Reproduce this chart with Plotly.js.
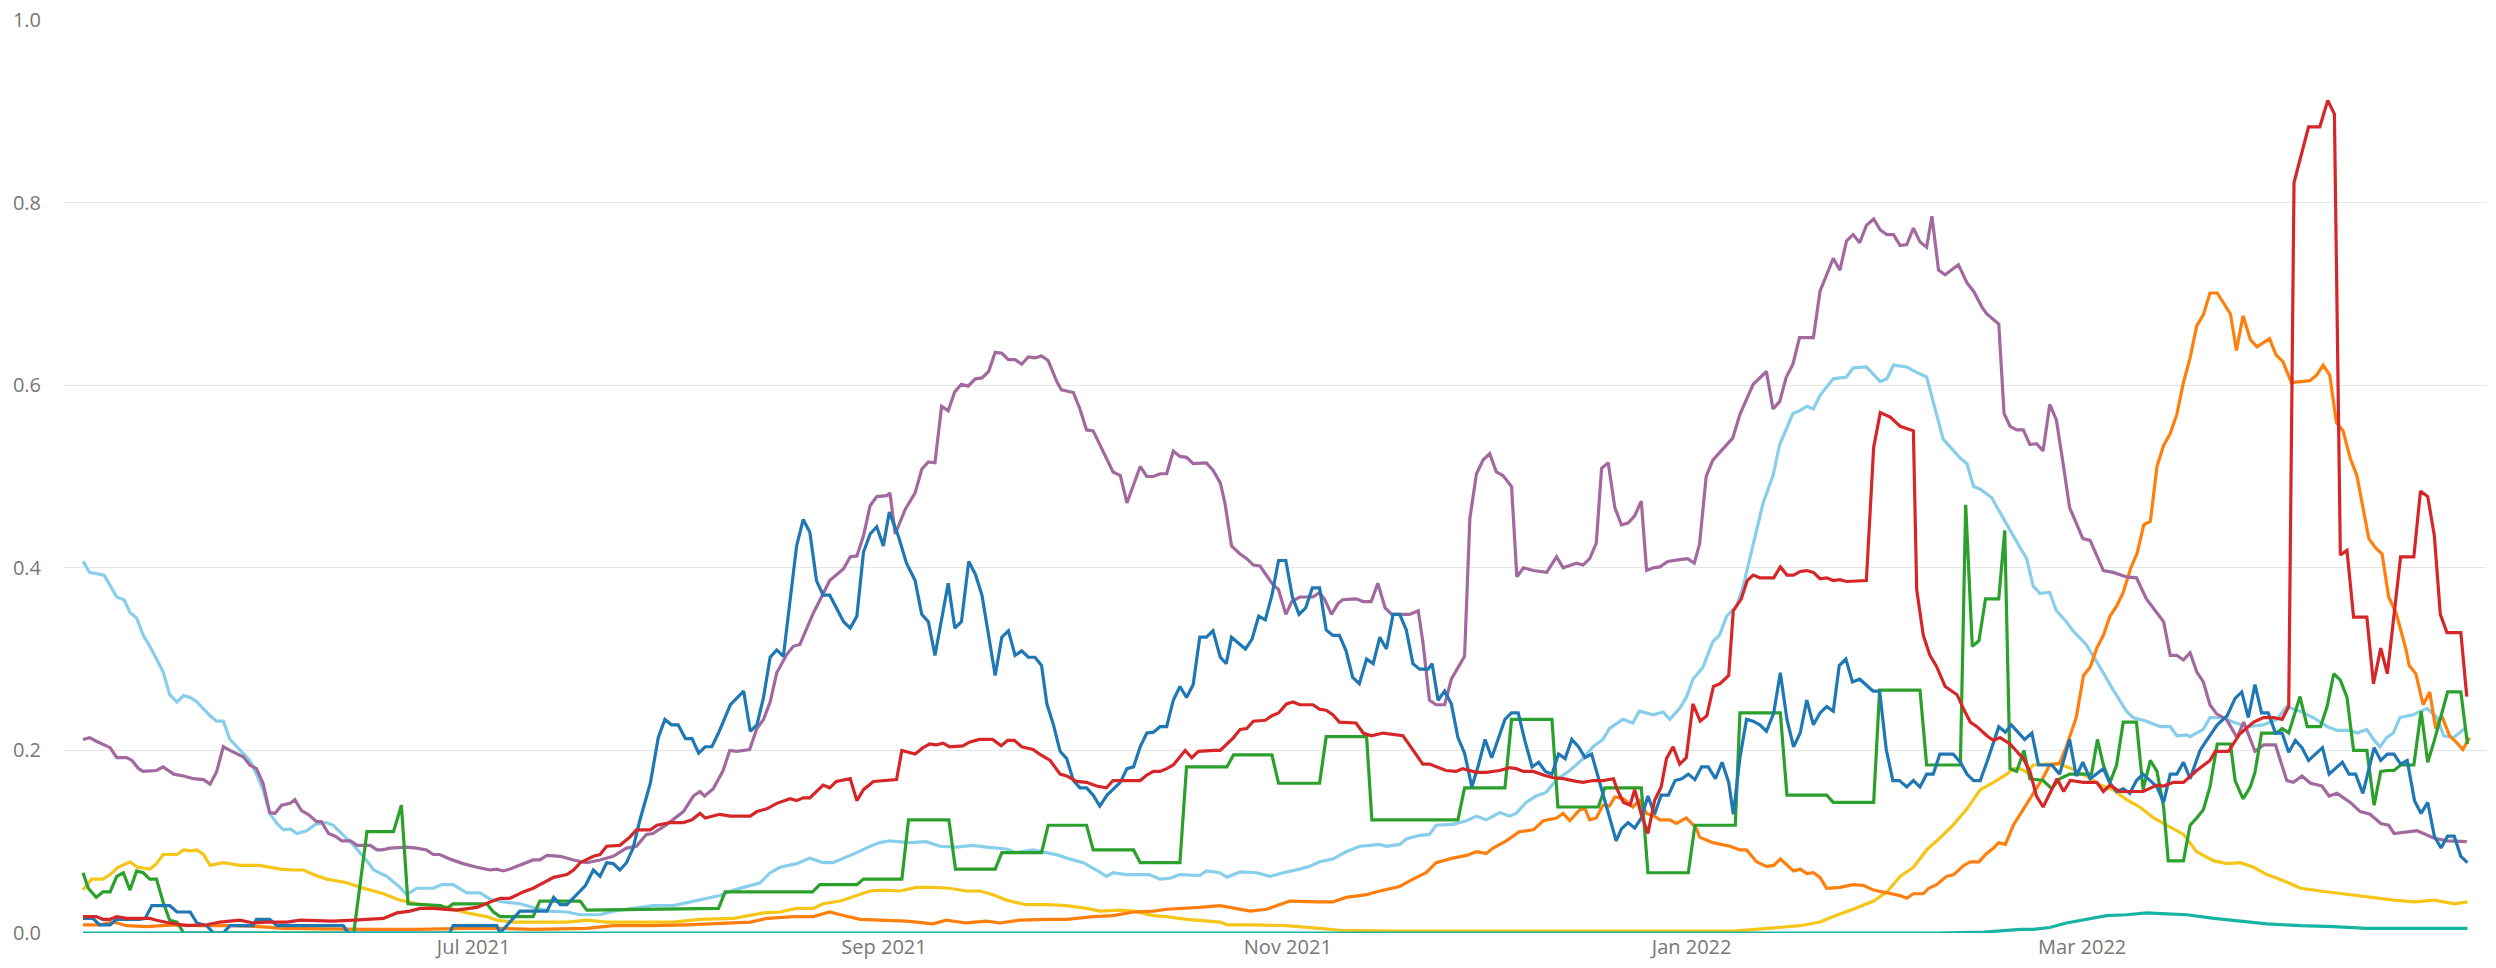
<!DOCTYPE html>
<html><head><meta charset="utf-8">
<script src="https://cdn.plot.ly/plotly-3.0.1.min.js"></script>
<style>html,body{margin:0;padding:0;background:#fff}#chart{width:2496px;height:968px}</style>
</head><body><div id="chart"></div>
<script>
// Day offsets are counted from START_DATE; each pair is [day, value].
const START_DATE = [2021, 4, 3]; // 2021-05-03
const xTickVals = ['2021-07-01','2021-09-01','2021-11-01','2022-01-01','2022-03-01'];
const xTickText = ['Jul 2021','Sep 2021','Nov 2021','Jan 2022','Mar 2022'];
const yTickVals = [0, 0.2, 0.4, 0.6, 0.8, 1.0];
const yTickText = ['0.0','0.2','0.4','0.6','0.8','1.0'];

const lightBlue = [[0,.407],[1,.395],[3.2,.392],[5.1,.368],[6.2,.365],[7.1,.351],[8.1,.345],[9.1,.326],[10.1,.314],[12.1,.286],[13.1,.261],[14.2,.253],[15.2,.26],[16.2,.258],[17.2,.253],[19.2,.238],[20.2,.232],[21.2,.232],[22.2,.212],[23.7,.2],[25.2,.189],[26.2,.174],[27.2,.157],[28.2,.131],[29.3,.12],[30.3,.113],[31.3,.114],[32.3,.109],[33.8,.112],[35.1,.119],[36.8,.121],[37.8,.118],[40.9,.096],[42.9,.079],[43.9,.069],[45.9,.062],[47.9,.05],[48.9,.042],[50.4,.049],[52.9,.049],[54.2,.053],[55.9,.053],[58,.044],[60,.044],[61.5,.037],[63.5,.034],[66,.032],[68,.028],[70.5,.024],[73.1,.023],[75.1,.02],[78.1,.02],[80.1,.024],[83.1,.027],[86.1,.03],[89.2,.03],[91.7,.034],[94.2,.038],[96.2,.041],[98.3,.047],[100.3,.051],[102.3,.055],[103.8,.066],[105.3,.072],[107.8,.076],[109.8,.082],[111.8,.077],[113.3,.077],[114.9,.082],[116.9,.088],[118.9,.095],[120.4,.099],[121.9,.101],[124.9,.099],[127.4,.1],[129.4,.095],[131.9,.094],[134.4,.096],[136.5,.094],[139.5,.092],[141,.088],[143.5,.091],[145.5,.088],[147.5,.085],[148.6,.082],[151.1,.077],[153.1,.069],[154.6,.062],[155.6,.066],[157.6,.064],[161.1,.064],[162.7,.059],[164.2,.06],[165.7,.064],[168.7,.063],[169.7,.068],[171.7,.066],[172.8,.061],[174.8,.067],[177.3,.066],[179.3,.062],[181.3,.066],[183.8,.07],[185.3,.073],[186.8,.078],[188.8,.081],[190.8,.089],[192.9,.095],[194.4,.096],[195.9,.097],[196.9,.095],[198.9,.097],[199.9,.103],[201.9,.107],[203.4,.108],[204.4,.118],[206.9,.119],[209,.123],[210.5,.128],[212,.124],[214,.132],[215.5,.128],[216.5,.131],[218,.143],[219.5,.15],[221,.154],[222.6,.168],[224.6,.178],[226.6,.191],[228.1,.204],[229.6,.212],[230.6,.224],[232.6,.234],[234.1,.23],[235.1,.243],[237.2,.239],[238.7,.242],[239.7,.234],[241.2,.246],[242.2,.258],[243.2,.278],[244.7,.291],[246.2,.319],[247.2,.326],[248.3,.347],[249.8,.358],[250.8,.38],[252.3,.427],[253.8,.471],[255.3,.501],[256.3,.535],[258.3,.569],[259.3,.572],[260.4,.577],[261.4,.574],[262.4,.589],[264.4,.607],[266.4,.609],[267.4,.619],[269.4,.62],[271.5,.604],[272.5,.607],[273.5,.622],[275.5,.62],[277,.614],[278.5,.609],[281,.541],[283.6,.52],[284.6,.514],[285.6,.489],[286.6,.486],[288.3,.477],[290.1,.455],[291.6,.435],[293.6,.41],[294.6,.38],[295.6,.372],[297.1,.373],[298.1,.353],[299.6,.341],[300.6,.331],[302.6,.316],[304.7,.291],[306.7,.266],[308.7,.243],[309.7,.236],[311.7,.232],[313.8,.226],[315.3,.226],[316.3,.216],[317.8,.217],[318.3,.215],[320.3,.223],[321.3,.236],[323.3,.236],[324.8,.231],[326.9,.226],[329.4,.228],[331.4,.234],[332.9,.248],[334.9,.243],[336.9,.236],[339,.226],[340.5,.222],[342.5,.222],[343.5,.219],[345,.223],[346,.212],[347,.204],[348,.214],[349,.219],[350,.236],[352,.239],[354.1,.246],[355.6,.236],[356.6,.216],[358.1,.214],[360.1,.226]];

const yellow = [[0,.047],[1.3,.059],[3,.059],[4.1,.064],[5.3,.072],[7.1,.078],[8.2,.072],[10.1,.07],[11.1,.076],[12.1,.086],[14.2,.086],[15.2,.091],[16.2,.09],[17.2,.091],[18.2,.086],[19.2,.074],[21.2,.077],[22.2,.076],[23.7,.074],[26.7,.074],[29.8,.07],[31.8,.069],[33.3,.069],[34.8,.064],[36.8,.059],[39.9,.055],[41.9,.05],[43.9,.046],[45.4,.043],[47.9,.036],[50.4,.032],[55,.028],[58,.022],[61,.018],[62.5,.014],[65,.012],[73.1,.012],[76.1,.014],[79.1,.012],[89.2,.012],[93.2,.015],[98.3,.016],[100.8,.019],[102.8,.022],[105.3,.023],[107.8,.027],[110.3,.027],[111.8,.032],[114.4,.035],[116.9,.041],[118.9,.046],[120.9,.047],[123.4,.046],[125.9,.05],[128.4,.05],[130.9,.049],[133.4,.046],[135.5,.046],[137.5,.042],[139.5,.036],[142.5,.031],[145.6,.031],[148.6,.03],[151.6,.027],[153.6,.024],[156.7,.025],[158.7,.024],[161.7,.019],[163.7,.018],[166.7,.015],[168.7,.014],[171.8,.012],[172.8,.009],[176.8,.009],[181.8,.008],[183.8,.007],[186.8,.005],[189.8,.003],[198.9,.002],[249.3,.002],[254.3,.005],[259.4,.008],[262.4,.012],[264.4,.018],[267.4,.026],[270.5,.035],[272.5,.045],[274.5,.062],[276.5,.072],[278.5,.091],[280.5,.104],[282.6,.119],[284.6,.136],[286.6,.157],[288.6,.165],[290.6,.174],[291.6,.18],[292.6,.18],[293.6,.176],[294.6,.184],[296.6,.185],[298.6,.185],[300.4,.18],[302.6,.172],[304.7,.162],[306.7,.157],[308.7,.146],[310.7,.138],[312.8,.126],[314.8,.118],[317.3,.108],[319.3,.089],[321.9,.079],[323.9,.076],[325.9,.077],[327.9,.072],[329.9,.064],[332.5,.057],[335,.049],[338,.046],[341.1,.043],[345.1,.039],[349.1,.036],[352.2,.034],[355.2,.036],[358.2,.032],[360.2,.034]];

const orange = [[0,.009],[2.5,.009],[4.6,.012],[6.6,.008],[9.6,.007],[13.7,.009],[17.7,.008],[22.7,.008],[26.7,.007],[30.3,.005],[42.9,.004],[50.4,.004],[58,.005],[63,.005],[68,.004],[76.1,.005],[80.1,.008],[86.1,.008],[91.2,.009],[96.2,.011],[100.8,.012],[103.3,.016],[107.3,.018],[110.3,.018],[112.8,.023],[114.4,.02],[117.4,.015],[120.4,.014],[124.4,.013],[128.4,.01],[130.4,.014],[133.4,.011],[136.5,.013],[138.5,.011],[141.5,.014],[145.6,.015],[148.6,.015],[152.6,.018],[155.6,.019],[158.7,.023],[161.7,.024],[163.7,.026],[166.7,.027],[168.7,.028],[171.8,.03],[173.8,.027],[176.3,.024],[178.8,.026],[180.3,.03],[182.3,.035],[186.8,.034],[188.8,.034],[190.8,.039],[193.9,.042],[195.9,.046],[198.9,.051],[200.9,.059],[202.9,.066],[204.4,.077],[206.9,.082],[209,.085],[210.5,.089],[212,.087],[213,.093],[215,.101],[217,.111],[219.1,.113],[220.6,.123],[222.6,.126],[223.6,.131],[224.6,.123],[226.1,.135],[226.9,.136],[227.6,.124],[228.6,.126],[229.6,.14],[230.6,.139],[231.4,.149],[232.7,.147],[234.1,.138],[235.1,.145],[236.2,.131],[237.4,.128],[238.2,.124],[239.7,.124],[240.7,.12],[242.2,.126],[243.7,.115],[244.2,.105],[246.2,.099],[248.8,.095],[250.3,.091],[251.3,.091],[252.8,.078],[254.3,.073],[255.4,.074],[256.4,.081],[258.4,.068],[259.4,.07],[260.4,.065],[261.4,.066],[262.4,.061],[263.4,.049],[265.4,.05],[267.4,.053],[269,.052],[270.5,.047],[272,.045],[273,.043],[274.5,.041],[275.5,.038],[276.5,.043],[278,.043],[278.8,.049],[280,.053],[281.5,.062],[282.6,.064],[284.1,.074],[285.1,.078],[286.4,.078],[287.4,.086],[288.6,.093],[289.4,.099],[290.4,.097],[291.6,.118],[293.1,.135],[294.6,.153],[296.1,.17],[297.1,.184],[298.6,.186],[299.6,.204],[301.1,.236],[302.2,.282],[303.2,.291],[304.2,.312],[305.2,.326],[306.2,.347],[307.2,.358],[308.2,.373],[309.3,.399],[310.3,.416],[311.3,.447],[312.3,.451],[313.3,.511],[314.3,.534],[315.3,.547],[316.3,.568],[317.3,.603],[318.3,.63],[319.3,.665],[320.3,.677],[321.3,.701],[322.4,.701],[324.4,.678],[325.3,.638],[326.3,.676],[327.4,.65],[328.4,.642],[330.3,.651],[331.3,.633],[332.3,.626],[333.6,.603],[335.1,.604],[336.4,.605],[337.4,.611],[338.4,.622],[339.4,.611],[340.4,.559],[341.4,.55],[342.5,.52],[343.5,.501],[345.3,.432],[346.3,.422],[347.3,.415],[348.3,.368],[349.4,.351],[350.9,.311],[351.4,.293],[352.4,.284],[353.5,.25],[354.5,.264],[355.4,.224],[356.3,.238],[357.5,.216],[358.5,.209],[359.5,.201],[360.5,.214]];

const purple = [[0,.212],[1,.214],[2,.21],[4.1,.203],[5.1,.192],[6.6,.192],[7.4,.189],[8.4,.18],[9.1,.177],[11.1,.178],[12.1,.182],[13.7,.174],[15.2,.172],[16.7,.169],[18.2,.168],[19.2,.163],[20.2,.177],[21.2,.204],[22.2,.2],[23.2,.196],[24.2,.193],[25.2,.184],[26.2,.18],[27.2,.164],[28.2,.132],[29,.131],[30,.14],[31.3,.142],[32,.146],[33,.134],[34,.13],[35.3,.122],[36,.122],[37.1,.109],[38.1,.106],[39.1,.101],[40.4,.101],[41.4,.096],[43.4,.096],[44.4,.091],[45.2,.091],[46.4,.093],[48.9,.094],[50.4,.093],[51.9,.091],[52.9,.086],[53.9,.086],[55.4,.081],[57.4,.076],[59.5,.072],[61.5,.069],[62.5,.07],[63.5,.068],[64.5,.07],[66.5,.076],[68,.08],[69,.08],[70.1,.085],[72.1,.084],[74.1,.08],[76.1,.077],[78.1,.08],[80.1,.084],[82.1,.093],[83.6,.095],[85.1,.108],[86.1,.109],[88.2,.119],[90.7,.133],[92.2,.15],[93.2,.155],[93.9,.15],[95.2,.158],[96.7,.178],[97.7,.2],[98.7,.199],[100.7,.201],[101.8,.224],[102.8,.234],[103.8,.253],[104.8,.285],[106.3,.305],[107.3,.314],[108.3,.316],[110.3,.35],[112.8,.386],[114.9,.399],[115.9,.412],[116.9,.413],[117.9,.435],[118.9,.468],[119.9,.478],[121.4,.479],[121.9,.482],[122.7,.437],[124.2,.464],[125.7,.482],[126.7,.508],[127.7,.516],[128.7,.515],[129.7,.577],[130.7,.572],[131.7,.593],[132.7,.601],[133.7,.599],[134.8,.607],[135.8,.608],[136.8,.615],[137.8,.636],[138.8,.635],[139.8,.628],[140.8,.628],[141.8,.623],[142.8,.631],[143.8,.63],[144.8,.632],[145.8,.627],[147.1,.604],[147.8,.595],[149.6,.592],[150.6,.574],[151.6,.551],[152.6,.55],[154.1,.528],[155.6,.505],[156.7,.501],[157.7,.471],[158.7,.491],[159.7,.511],[160.7,.5],[161.7,.5],[162.7,.503],[163.7,.503],[164.7,.528],[165.7,.522],[166.7,.521],[167.7,.514],[169.7,.515],[170.7,.507],[171.8,.493],[172.5,.471],[173.5,.424],[174.8,.415],[175.8,.41],[176.8,.403],[177.8,.402],[178.8,.392],[179.6,.383],[180.6,.376],[181.7,.349],[182.6,.363],[183.8,.368],[185.8,.368],[186.8,.373],[187.6,.365],[188.6,.349],[189.6,.361],[190.3,.365],[192.3,.366],[193.4,.363],[194.6,.363],[195.6,.383],[196.7,.356],[197.7,.349],[200.4,.349],[201.7,.353],[202.4,.319],[203.4,.255],[204.4,.25],[205.7,.25],[206.7,.278],[207.7,.29],[208.7,.303],[209.5,.454],[210.5,.503],[211.5,.518],[212.5,.525],[213.5,.505],[214.5,.501],[215.8,.489],[216.6,.39],[217.6,.4],[219.1,.397],[221.1,.395],[222.6,.412],[223.6,.4],[225.6,.405],[226.6,.403],[227.6,.41],[228.6,.427],[229.4,.509],[230.4,.515],[231.4,.466],[232.4,.447],[233.4,.449],[234.4,.457],[235.4,.473],[236.2,.397],[237.2,.4],[238.2,.401],[239.4,.407],[241.2,.409],[242.4,.41],[243.4,.405],[244.2,.426],[245.2,.5],[246.2,.518],[247.7,.53],[249.2,.542],[250.3,.568],[251.3,.584],[252.3,.601],[254.3,.615],[255.3,.574],[256.3,.582],[257.3,.609],[258.3,.623],[259.3,.652],[261.4,.652],[262.4,.703],[263.4,.721],[264.4,.739],[265.4,.726],[266.4,.758],[267.4,.765],[268.4,.756],[269.4,.775],[270.5,.782],[271.5,.77],[272.5,.765],[273.5,.765],[274.5,.753],[275.5,.754],[276.5,.772],[277.5,.757],[278.5,.751],[279.3,.785],[280.3,.726],[281.3,.721],[283.3,.732],[284.6,.712],[285.6,.703],[286.9,.685],[287.6,.678],[289.4,.667],[290.2,.569],[291.1,.555],[292.1,.551],[293.1,.551],[294.1,.535],[295.1,.536],[296.1,.528],[297.1,.579],[298.1,.562],[299.1,.515],[300.1,.466],[302.1,.432],[303.2,.43],[305.2,.397],[306.7,.395],[308.7,.39],[310.2,.389],[311.7,.366],[312.7,.356],[314.3,.341],[315.3,.304],[316.3,.304],[317.3,.299],[318.3,.307],[319.3,.286],[320.3,.275],[321.3,.25],[322.3,.24],[323.8,.234],[325.4,.214],[326.4,.231],[328.1,.199],[329.4,.206],[331.2,.206],[332.9,.167],[333.9,.165],[335.2,.172],[336.5,.164],[338.2,.161],[339.3,.15],[340.5,.153],[342.5,.143],[344,.133],[345.5,.13],[347.1,.12],[348.3,.118],[349.1,.109],[350.1,.11],[352.6,.112],[355.1,.104],[357.1,.101],[360.1,.1]];

const green = [[0,.066],[0.8,.049],[2,.039],[3,.045],[4.1,.045],[5.1,.062],[6.1,.066],[7.1,.047],[8.1,.068],[9.1,.066],[10.1,.059],[11.1,.059],[12.1,.034],[13.1,.014],[14.2,.012],[15.2,0],[40.9,0],[42.9,.111],[46.9,.111],[48.1,.14],[49.1,.032],[54,.03],[55,.027],[55.9,.032],[61,.032],[62,.023],[63,.018],[68,.018],[69,.035],[75.1,.035],[76.1,.025],[96,.027],[97,.045],[110.2,.045],[111.3,.053],[116.9,.053],[117.9,.059],[123.7,.059],[124.7,.124],[130.8,.124],[131.8,.07],[137.8,.07],[138.8,.088],[144.8,.088],[145.8,.118],[151.6,.118],[152.6,.091],[158.7,.091],[159.7,.077],[165.7,.077],[166.7,.182],[172.8,.182],[173.8,.195],[179.6,.195],[180.6,.164],[186.8,.164],[187.8,.215],[193.9,.215],[194.7,.124],[207.7,.124],[208.7,.159],[214.8,.159],[215.8,.234],[221.9,.234],[222.8,.138],[228.9,.138],[229.9,.159],[235.4,.159],[236.4,.066],[242.5,.066],[243.5,.118],[249.6,.118],[250.3,.241],[256.4,.241],[257.4,.151],[263.4,.151],[264.4,.143],[270.5,.143],[271.4,.266],[277.5,.266],[278.5,.184],[283.6,.184],[284.4,.469],[285.4,.314],[286.4,.32],[287.4,.366],[289.4,.366],[290.3,.441],[291.1,.18],[292.1,.177],[293.2,.2],[294.1,.169],[296.1,.167],[297.4,.158],[298.6,.169],[300.1,.174],[303.4,.174],[304.3,.212],[305.2,.184],[306.2,.165],[307.2,.184],[308.2,.231],[310.2,.231],[311.2,.157],[312.3,.189],[313.3,.177],[314.3,.138],[315,.079],[317.3,.079],[318.3,.118],[319.3,.126],[320.3,.135],[321.3,.16],[322.4,.207],[324.4,.207],[325.1,.167],[326.3,.147],[327.4,.16],[328.1,.176],[329.1,.219],[331.4,.219],[332.2,.224],[333.2,.219],[334.9,.259],[336,.226],[338,.226],[339,.248],[340,.284],[341,.277],[342,.258],[343,.2],[345,.2],[346.1,.14],[347.1,.177],[348.1,.178],[349.1,.178],[350.1,.184],[352.1,.184],[353.2,.243],[354.2,.187],[355.2,.211],[357.2,.264],[359.2,.264],[360.2,.207]];

const blue = [[0,.016],[1.5,.016],[2.5,.009],[4.1,.009],[5.1,.015],[8.6,.015],[9.4,.016],[10.4,.03],[13.1,.03],[14.2,.023],[16.2,.023],[17.2,.011],[18.7,.008],[19.7,0],[21.2,0],[22.2,.008],[25.7,.008],[26.2,.015],[28.2,.015],[29.3,.008],[39.3,.008],[40.1,0],[55.4,0],[55.9,.008],[62.5,.008],[63,0],[66,.024],[70.1,.024],[71.1,.039],[72.1,.031],[73.1,.031],[74.6,.042],[75.9,.052],[77.1,.069],[78.1,.062],[79.1,.077],[80.1,.076],[81.1,.069],[82.1,.077],[83.1,.093],[84.1,.123],[85.7,.164],[86.9,.214],[87.9,.234],[88.9,.228],[89.9,.228],[91,.213],[92,.213],[93,.197],[94,.204],[95,.204],[96,.219],[97.8,.25],[99.8,.265],[100.8,.221],[101.8,.228],[102.8,.258],[103.8,.302],[104.8,.31],[105.8,.303],[106.8,.363],[107.8,.424],[108.8,.453],[109.8,.439],[110.8,.386],[111.8,.37],[112.8,.37],[114.9,.341],[115.9,.334],[116.9,.347],[117.9,.417],[118.9,.437],[119.9,.445],[120.9,.424],[121.8,.461],[123.2,.434],[124.4,.405],[125.7,.386],[126.7,.349],[127.7,.341],[128.7,.304],[130.7,.383],[131.7,.334],[132.7,.341],[133.8,.407],[134.8,.393],[135.8,.37],[137.8,.282],[138.8,.324],[139.8,.331],[140.8,.304],[141.8,.309],[142.8,.302],[143.8,.302],[144.8,.293],[145.6,.251],[146.6,.228],[147.6,.199],[148.6,.191],[149.6,.167],[150.6,.159],[151.6,.159],[152.6,.151],[153.6,.139],[154.7,.151],[156.7,.165],[157.7,.18],[158.7,.182],[159.7,.204],[160.7,.219],[161.7,.22],[162.7,.226],[163.7,.226],[164.7,.255],[165.7,.27],[166.7,.258],[167.7,.272],[168.7,.324],[169.7,.324],[170.7,.331],[171.8,.302],[172.7,.295],[173.5,.324],[175.6,.311],[176.6,.322],[177.6,.347],[178.6,.343],[179.6,.37],[180.6,.408],[181.7,.408],[182.7,.368],[183.7,.349],[184.7,.356],[185.7,.378],[186.8,.378],[187.8,.332],[188.8,.326],[189.8,.326],[190.8,.309],[191.8,.28],[192.8,.273],[193.9,.3],[194.9,.295],[195.9,.324],[196.9,.311],[197.9,.349],[198.9,.349],[199.9,.332],[200.9,.295],[201.9,.289],[203.2,.289],[203.8,.295],[204.7,.255],[205.7,.265],[206.7,.251],[207.7,.214],[208.7,.197],[209.8,.16],[210.8,.184],[211.8,.212],[212.8,.192],[213.8,.214],[214.8,.234],[215.8,.241],[216.8,.241],[217.8,.211],[218.9,.182],[219.9,.187],[220.9,.177],[221.9,.174],[222.9,.196],[223.9,.191],[224.9,.212],[225.9,.204],[226.9,.192],[227.9,.196],[228.9,.17],[229.9,.143],[230.9,.12],[231.6,.101],[232.4,.114],[233.4,.121],[234.4,.115],[235.4,.126],[236.4,.15],[237.4,.13],[238.4,.151],[239.5,.151],[240.5,.167],[241.5,.169],[242.5,.174],[243.5,.168],[244.5,.182],[245.5,.182],[246.6,.169],[247.6,.187],[248.6,.165],[249.3,.13],[250.3,.192],[251.3,.234],[252.3,.232],[253.3,.228],[254.3,.221],[255.4,.241],[256.4,.285],[257.4,.234],[258.4,.204],[259.4,.219],[260.4,.255],[261.4,.228],[262.4,.241],[263.4,.248],[264.4,.243],[265.3,.293],[266.3,.3],[267.3,.275],[268.4,.278],[269.4,.272],[270.4,.265],[271.4,.265],[272.4,.201],[273.4,.167],[274.4,.167],[275.5,.16],[276.5,.167],[277.5,.16],[278.5,.174],[279.5,.174],[280.5,.196],[282.5,.196],[283.6,.187],[284.6,.174],[285.6,.167],[286.6,.167],[287.6,.187],[289.4,.226],[290.4,.22],[291.3,.228],[293.3,.212],[294.4,.219],[295.4,.184],[297.4,.184],[298.6,.174],[300.1,.212],[301.1,.172],[302.1,.187],[303.2,.169],[305.2,.18],[306.2,.164],[307.2,.155],[308.2,.158],[309.2,.153],[310.2,.167],[311.2,.174],[312.3,.167],[313.3,.16],[314.3,.143],[315.3,.174],[316.3,.174],[317.3,.187],[318.3,.169],[319.8,.2],[320.8,.211],[322.4,.228],[323.9,.238],[325.1,.257],[326.1,.264],[327.1,.236],[328.1,.272],[329.1,.241],[330.1,.241],[331.2,.219],[332.2,.219],[333.2,.198],[334.2,.211],[335.2,.203],[336.2,.189],[338.3,.203],[339.3,.174],[341.3,.187],[342.3,.174],[343.3,.174],[344.4,.153],[346.1,.203],[347.1,.189],[348.1,.196],[349.1,.196],[350.1,.185],[351.1,.189],[352.2,.145],[353.2,.131],[354.2,.143],[355.2,.106],[356.2,.093],[357.2,.106],[358.2,.106],[359.2,.084],[360.2,.077]];

const red = [[0,.018],[2,.018],[3,.015],[4.1,.015],[5.1,.018],[6.6,.016],[10.1,.016],[11.1,.014],[13.1,.011],[15.7,.008],[18.7,.009],[20.7,.012],[23.7,.014],[25.7,.011],[27.7,.012],[30.8,.012],[32.8,.014],[37.8,.013],[40.9,.014],[42.9,.015],[45.4,.016],[47.4,.022],[49.4,.024],[50.9,.027],[52.9,.027],[56.4,.025],[59.5,.028],[61.5,.034],[63,.038],[64.5,.038],[66.5,.045],[68,.049],[69.5,.055],[71.1,.061],[73.1,.064],[74.1,.069],[75.1,.077],[77.1,.084],[78.1,.086],[79.1,.095],[81.1,.096],[82.6,.105],[83.6,.113],[85.7,.113],[86.7,.118],[88.7,.121],[90.7,.121],[92,.124],[93.2,.131],[94,.126],[96.2,.13],[97.8,.128],[100.8,.128],[101.8,.133],[103.3,.136],[104.8,.142],[106.8,.147],[107.8,.145],[108.8,.148],[109.8,.148],[111.8,.162],[112.8,.159],[113.8,.166],[115.9,.169],[116.9,.145],[117.9,.157],[119.4,.166],[121.9,.168],[122.9,.168],[123.7,.2],[125.7,.196],[126.9,.203],[127.9,.207],[128.9,.206],[129.9,.208],[130.9,.204],[132.9,.205],[133.9,.209],[135.4,.212],[137.4,.212],[138.7,.205],[139.7,.211],[140.7,.211],[141.8,.204],[143.5,.201],[144.5,.196],[146.1,.189],[147.6,.174],[148.6,.172],[150.1,.166],[151.6,.165],[153.1,.161],[154.6,.159],[155.6,.167],[159.7,.167],[160.7,.173],[161.7,.177],[162.7,.177],[163.7,.18],[164.7,.184],[166.5,.2],[167.5,.192],[168.5,.199],[170.8,.2],[171.8,.2],[172.8,.207],[173.8,.214],[174.8,.223],[175.8,.224],[176.8,.232],[178.6,.233],[179.6,.238],[180.6,.241],[181.8,.251],[182.8,.253],[183.8,.25],[185.8,.25],[186.8,.245],[187.8,.244],[188.8,.239],[189.8,.231],[192.3,.23],[193.4,.219],[194.6,.216],[196.4,.219],[199.4,.216],[200.9,.2],[202.4,.185],[203.4,.185],[204.4,.182],[205.9,.178],[207.4,.177],[208.4,.18],[210.5,.176],[212,.176],[214,.178],[215.5,.181],[216.5,.18],[217.6,.177],[219.1,.177],[220.6,.173],[222.1,.17],[223.6,.169],[225.6,.166],[226.6,.165],[228.1,.167],[229.6,.167],[231.2,.169],[231.7,.158],[232.7,.143],[233.7,.14],[234.4,.157],[235.4,.13],[236.4,.109],[237.4,.145],[238.4,.16],[239.2,.191],[240.2,.204],[241.2,.185],[242.2,.192],[243.2,.251],[244.3,.232],[245.3,.238],[246.3,.27],[247.3,.273],[248.6,.282],[249.3,.353],[250.5,.366],[251.4,.386],[252.3,.392],[253.3,.389],[255.4,.389],[256.4,.401],[257.4,.392],[258.4,.392],[259.4,.396],[260.4,.397],[261.4,.395],[262.4,.388],[263.4,.389],[264.4,.386],[265.4,.387],[266.4,.385],[269.4,.386],[270.5,.532],[271.5,.57],[273,.565],[274.5,.555],[276.5,.55],[277,.376],[278,.326],[279,.304],[280,.292],[281.3,.27],[283.1,.261],[284.1,.245],[285.1,.231],[286.1,.226],[287.6,.216],[288.6,.211],[289.6,.214],[291.1,.207],[292.1,.199],[293.1,.191],[294.1,.177],[295.1,.15],[296.1,.138],[297.1,.153],[298.2,.169],[299.2,.155],[300.2,.167],[302.2,.165],[304.2,.165],[305.2,.155],[306.2,.162],[307.7,.155],[311.2,.155],[313.3,.162],[314.3,.161],[315.8,.165],[317.3,.165],[319.3,.178],[321.3,.189],[322.1,.199],[324.1,.199],[325.8,.218],[327.9,.231],[329.4,.236],[330.9,.236],[332.2,.234],[333.2,.248],[334,.822],[335.2,.854],[336.2,.883],[337.9,.883],[339.1,.912],[340.1,.897],[341,.414],[342,.419],[343,.346],[345,.346],[346,.273],[347.1,.312],[348.1,.284],[350.1,.412],[352.1,.412],[353.1,.484],[354.2,.478],[355.2,.435],[356.1,.349],[357.1,.329],[359.2,.329],[360.1,.259]];

const teal = [[0,0],[50,0],[100,0],[150,0],[200,0],[250,0],[280,0],[287.2,.001],[292.7,.004],[294.6,.004],[297.1,.006],[299.6,.011],[302.6,.015],[305.7,.019],[308.7,.02],[311.7,.022],[314.8,.021],[317.8,.02],[321.9,.016],[325.9,.013],[329.9,.01],[335,.008],[340,.007],[345,.005],[350.1,.005],[355.2,.005],[360.2,.005]];

const seriesList = [
  {name:'Series F', data: lightBlue, color:'#87ceeb', width:3.2},
  {name:'Series G', data: yellow,    color:'#f5c518', width:3.2},
  {name:'Series B', data: orange,    color:'#ff7f0e', width:3.2},
  {name:'Series E', data: purple,    color:'#a2699f', width:3.2},
  {name:'Series C', data: green,     color:'#2ca02c', width:3.2},
  {name:'Series A', data: blue,      color:'#1f77b4', width:3.2},
  {name:'Series D', data: red,       color:'#d62728', width:3.2},
  {name:'Series H', data: teal,      color:'#17b3a3', width:3.2}
];

const startMs = Date.UTC(START_DATE[0], START_DATE[1], START_DATE[2]);
function toDate(d){
  return new Date(startMs + d*86400000).toISOString().slice(0,19).replace('T',' ');
}

const traces = seriesList.map(s => ({
  type:'scatter', mode:'lines', name:s.name,
  x: s.data.map(p => toDate(p[0])),
  y: s.data.map(p => p[1]),
  line:{color:s.color, width:s.width, shape:'linear'},
  hoverinfo:'skip'
}));

const tickFont = {family:'"Open Sans", "Noto Sans", sans-serif', size:20, color:'#777777'};
const layout = {
  width:2496, height:968,
  margin:{l:64, r:10, t:20, b:35, pad:0},
  paper_bgcolor:'#ffffff', plot_bgcolor:'#ffffff',
  showlegend:false,
  xaxis:{
    type:'date',
    range:[toDate(-2.87), toDate(363.0)],
    tickvals: xTickVals, ticktext: xTickText,
    showgrid:false, zeroline:false, showline:false,
    ticks:'',
    tickfont: tickFont
  },
  yaxis:{
    range:[0,1],
    tickvals: yTickVals, ticktext: yTickText,
    showgrid:true, gridcolor:'#e6e6e6', gridwidth:1,
    zeroline:false, showline:false,
    ticks:'outside', ticklen:18, tickcolor:'rgba(0,0,0,0)',
    tickfont: tickFont
  },
  hovermode:false
};

Plotly.newPlot('chart', traces, layout, {staticPlot:true, displayModeBar:false});
</script>
</body></html>
